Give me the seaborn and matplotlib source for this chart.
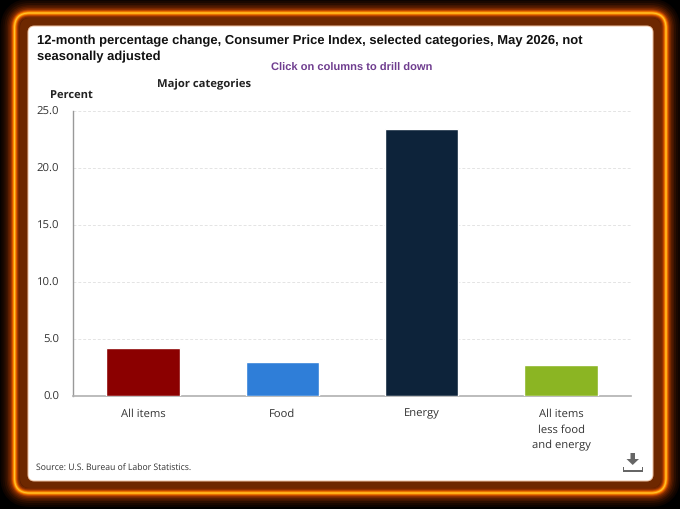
import matplotlib
matplotlib.use("Agg")
import matplotlib.pyplot as plt
import pandas as pd
import seaborn as sns
from matplotlib.patches import FancyBboxPatch, Polygon

categories = ["All items", "Food", "Energy", "All items\nless food\nand energy"]
values = [4.2, 3.0, 23.4, 2.7]
bar_colors = ["#8b0000", "#2f7ed8", "#0d233a", "#8bb523"]
y_ticks = [0, 5, 10, 15, 20, 25]

title = "12-month percentage change, Consumer Price Index, selected categories, May 2026, not\nseasonally adjusted"
W, H = 680, 510


def rounded(x0, y0, x1, y1, r, **kw):
    return FancyBboxPatch((x0 + r, y0 + r), x1 - x0 - 2 * r, y1 - y0 - 2 * r,
                          boxstyle=f"round,pad={r},rounding_size={r}", **kw)


def draw_frame(bg):
    bg.set_xlim(0, W)
    bg.set_ylim(H, 0)
    bg.axis("off")
    # glow round the orange line: half width in px, wide strokes first
    glow = [(14, "#0f0400"), (12, "#1a0800"), (10, "#2c0e00"), (8, "#421500"),
            (6.5, "#5a1d00"), (5, "#772800"), (3.6, "#a03800"), (2.6, "#d05000"),
            (1.7, "#f07800"), (1.1, "#ff9c00"), (0.5, "#ffc030")]
    for half, color in glow:
        bg.add_patch(rounded(14.5, 14, 666, 494, 15, fc="none", ec=color, lw=2 * half * 0.72))
    # brown band between the line and the white panel
    bg.add_patch(rounded(20, 19, 661, 489, 10, fc="#6e2800", ec="none"))
    bg.add_patch(rounded(27.5, 26.5, 653.5, 482.5, 7, fc="#ecc0a0", ec="none"))
    bg.add_patch(rounded(28.5, 27.5, 652.5, 481.5, 6, fc="white", ec="none"))
    # download icon
    bg.add_patch(Polygon([[630.5, 454], [635, 454], [635, 460], [639, 460], [632.7, 466],
                          [626.5, 460], [630.5, 460]], fc="#666666", ec="none"))
    bg.add_patch(Polygon([[623, 468], [624.3, 468], [624.3, 471], [641.7, 471], [641.7, 468],
                          [643, 468], [643, 472.5], [623, 472.5]], fc="#666666", ec="none"))


def main():
    sns.set_theme(style="white")
    plt.rcParams["font.family"] = ["Open Sans", "DejaVu Sans"]
    plt.rcParams["text.hinting"] = "no_hinting"
    plt.rcParams["ytick.alignment"] = "center"

    fig = plt.figure(figsize=(W / 100, H / 100), dpi=100, facecolor="black")
    bg = fig.add_axes([0, 0, 1, 1], zorder=0)
    draw_frame(bg)

    ax = fig.add_axes([73.2 / W, 1 - 396.7 / H, 557.5 / W, 284.7 / H], zorder=1)
    ax.patch.set_alpha(0)
    data = pd.DataFrame({"category": categories, "value": values})
    sns.barplot(data=data, x="category", y="value", hue="category", palette=bar_colors,
                width=0.527, legend=False, ax=ax, saturation=1, zorder=3)
    ax.set_xlim(-0.5, 3.5)
    ax.set_ylim(0, 25)
    ax.set_yticks(y_ticks)
    ax.set_yticklabels([f"{t:.1f}" for t in y_ticks], fontsize=8.2, color="#333333")
    ax.set_xlabel("")
    ax.set_ylabel("")
    ax.tick_params(axis="x", length=0, pad=8.5, labelsize=8.1, labelcolor="#333333")
    for label in ax.get_xticklabels():
        label.set_linespacing(1.55)
    ax.tick_params(axis="y", length=0, pad=10)
    ax.grid(axis="y", color="#e4e4e4", lw=0.7, ls=(0, (3, 2)), zorder=0)
    ax.set_axisbelow(True)
    for side in ["top", "right"]:
        ax.spines[side].set_visible(False)
    ax.spines["left"].set_color("#999999")
    ax.spines["left"].set_linewidth(1)
    ax.spines["bottom"].set_color("#b0b0b0")
    ax.spines["bottom"].set_linewidth(1.2)

    bg.text(37, 49, title, fontsize=9.4, fontweight="bold", family="Liberation Sans",
            color="#111111", va="center", linespacing=1.35)
    bg.text(352, 68.5, "Click on columns to drill down", fontsize=8.0, fontweight="bold",
            family="Liberation Sans", color="#6f3d8f", ha="center", va="center")
    bg.text(204, 84, "Major categories", fontsize=8.1, fontweight="bold", color="#222222",
            ha="center", va="center")
    bg.text(71, 95, "Percent", fontsize=8.0, fontweight="bold", color="#222222",
            ha="center", va="center")
    bg.text(36, 468.5, "Source: U.S. Bureau of Labor Statistics.", fontsize=6.25, color="#333333",
            va="center")

    fig.savefig("out.png", dpi=100, facecolor="black")


if __name__ == "__main__":
    main()
